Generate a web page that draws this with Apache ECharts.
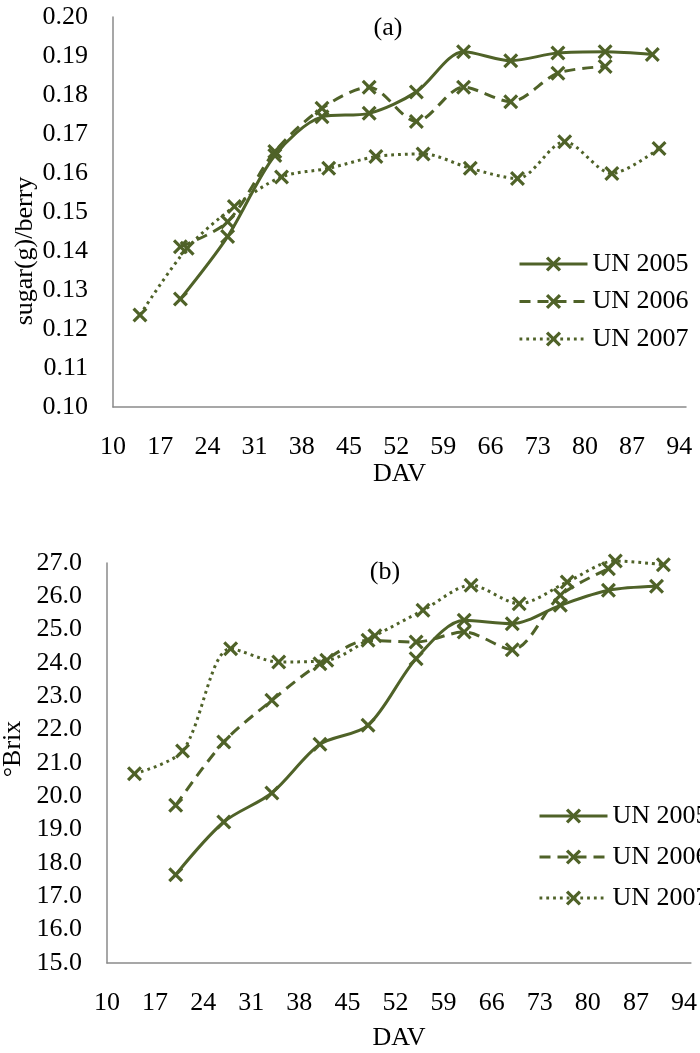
<!DOCTYPE html>
<html>
<head>
<meta charset="utf-8">
<script src="https://cdn.jsdelivr.net/npm/echarts@6/dist/echarts.min.js"></script>
<style>
  html, body { margin: 0; padding: 0; background: #fff; }
  #chart { width: 700px; height: 1053px; }
</style>
</head>
<body>
<div id="chart"></div>
<script>
// Days after véraison (DAV) sampled in each season
const dav2005 = [20, 27, 34, 41, 48, 55, 62, 69, 76, 83, 90];
const dav2006 = [20, 27, 34, 41, 48, 55, 62, 69, 76, 83];
const dav2007 = [14, 21, 28, 35, 42, 49, 56, 63, 70, 77, 84, 91];

// (a) sugar per berry, g
const sugar2005 = [0.1277, 0.1437, 0.1645, 0.1744, 0.1753, 0.1808, 0.1911, 0.1888, 0.1908, 0.1911, 0.1904];
const sugar2006 = [0.1411, 0.1475, 0.1655, 0.1766, 0.1820, 0.1732, 0.1820, 0.1783, 0.1856, 0.1873];
const sugar2007 = [0.1236, 0.1407, 0.1514, 0.1590, 0.1612, 0.1642, 0.1649, 0.1612, 0.1586, 0.1680, 0.1599, 0.1663];

// (b) total soluble solids, °Brix
const brix2005 = [17.65, 19.23, 20.10, 21.56, 22.13, 24.13, 25.28, 25.18, 25.73, 26.18, 26.30];
const brix2006 = [19.73, 21.63, 22.88, 23.98, 24.68, 24.63, 24.93, 24.40, 26.03, 26.83];
const brix2007 = [20.68, 21.36, 24.43, 24.03, 24.08, 24.82, 25.58, 26.33, 25.78, 26.43, 27.06, 26.95];

// Axis tick labels
const davTicks = [10, 17, 24, 31, 38, 45, 52, 59, 66, 73, 80, 87, 94];
const seriesNames = ['UN 2005', 'UN 2006', 'UN 2007'];

const GREEN = '#4f6228';
const AXIS = '#8a8a8a';
const FONT = '"Liberation Serif", "Times New Roman", serif';
const crossPath = 'path://M3,0 L10,7 L17,0 L20,3 L13,10 L20,17 L17,20 L10,13 L3,20 L0,17 L7,10 L0,3 Z';

const pairs = (xs, ys) => xs.map((x, i) => [x, ys[i]]);
const lineTypes = ['solid', [11, 7], [2.8, 4]];

function makeSeries(idx, datasets) {
  const davs = [dav2005, dav2006, dav2007];
  return datasets.map((ys, k) => ({
    type: 'line',
    name: seriesNames[k],
    xAxisIndex: idx,
    yAxisIndex: idx,
    data: pairs(davs[k], ys),
    smooth: 0.3,
    clip: false,
    symbol: crossPath,
    symbolSize: 15,
    showAllSymbol: true,
    lineStyle: { color: GREEN, width: 3, type: lineTypes[k] },
    itemStyle: { color: GREEN, borderWidth: 0 },
    z: 3 - k
  }));
}

function xAxisFor(idx, gap) {
  return {
    type: 'value', gridIndex: idx, min: 10, max: 95, interval: 7,
    name: 'DAV', nameLocation: 'middle', nameGap: gap,
    nameTextStyle: { fontFamily: FONT, fontSize: 26, color: '#000' },
    axisLine: { show: true, onZero: false, lineStyle: { color: AXIS, width: 1.5 } },
    axisTick: { show: false },
    splitLine: { show: false },
    axisLabel: {
      fontFamily: FONT, fontSize: 26, color: '#000', margin: 27,
      showMaxLabel: false,
      formatter: v => (davTicks.indexOf(Math.round(v)) >= 0 && Math.abs(v - Math.round(v)) < 1e-6) ? String(Math.round(v)) : ''
    }
  };
}

function yAxisFor(idx, min, max, interval, digits) {
  return {
    type: 'value', gridIndex: idx, min: min, max: max, interval: interval,
    axisLine: { show: true, onZero: false, lineStyle: { color: AXIS, width: 1.5 } },
    axisTick: { show: false },
    splitLine: { show: false },
    axisLabel: {
      fontFamily: FONT, fontSize: 26, color: '#000', margin: 25,
      formatter: v => v.toFixed(digits)
    }
  };
}

function legendFor(left, top, gap) {
  return {
    data: seriesNames,
    orient: 'vertical',
    left: left, top: top,
    itemWidth: 68, itemHeight: 19, itemGap: gap,
    selectedMode: false,
    lineStyle: { width: 3 },
    textStyle: { fontFamily: FONT, fontSize: 26, color: '#000', lineHeight: 26 }
  };
}

const chart = echarts.init(document.getElementById('chart'), null, { renderer: 'canvas' });
chart.setOption({
  animation: false,
  backgroundColor: '#fff',
  grid: [
    { left: 113, top: 17, width: 573, height: 390 },
    { left: 107, top: 563, width: 590, height: 400 }
  ],
  xAxis: [xAxisFor(0, 43), xAxisFor(1, 62)],
  yAxis: [yAxisFor(0, 0.10, 0.20, 0.01, 2), yAxisFor(1, 15, 27, 1, 1)],
  legend: [legendFor(513, 246, 11.5), legendFor(533, 798, 15)],
  graphic: [
    { type: 'text', x: 388, y: 28, style: { text: '(a)', font: '26px ' + FONT, fill: '#000', align: 'center', verticalAlign: 'middle' } },
    { type: 'text', x: 385, y: 572, style: { text: '(b)', font: '26px ' + FONT, fill: '#000', align: 'center', verticalAlign: 'middle' } },
    { type: 'text', x: 25, y: 251, rotation: Math.PI / 2, style: { text: 'sugar(g)/berry', font: '26px ' + FONT, fill: '#000', align: 'center', verticalAlign: 'middle' } },
    { type: 'text', x: 13, y: 749, rotation: Math.PI / 2, style: { text: '°Brix', font: '26px ' + FONT, fill: '#000', align: 'center', verticalAlign: 'middle' } }
  ],
  series: [
    ...makeSeries(0, [sugar2005, sugar2006, sugar2007]),
    ...makeSeries(1, [brix2005, brix2006, brix2007])
  ]
});
</script>
</body>
</html>
